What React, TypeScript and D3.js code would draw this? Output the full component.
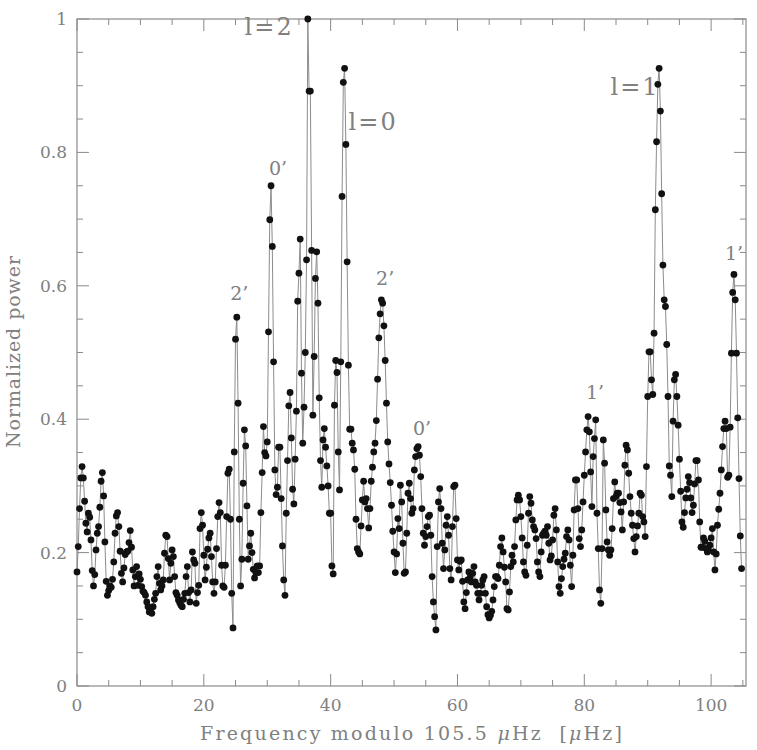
import React from "react";
import * as d3 from "d3";

// Frequency step between successive points (µHz)
const STEP = 0.2;

// Normalized power, in chunks of 10 µHz (each chunk starts at its named frequency)
const power000 = [
  0.171, 0.209, 0.266, 0.312, 0.329, 0.312, 0.277, 0.244, 0.231, 0.259,
  0.253, 0.219, 0.173, 0.150, 0.167, 0.204, 0.229, 0.239, 0.268, 0.307,
  0.320, 0.285, 0.216, 0.157, 0.136, 0.143, 0.150, 0.148, 0.160, 0.186,
  0.229, 0.255, 0.260, 0.239, 0.202, 0.169, 0.156, 0.177, 0.197, 0.201,
  0.202, 0.215, 0.233, 0.208, 0.174, 0.150, 0.164, 0.179, 0.151, 0.168,
];
const power010 = [
  0.160, 0.149, 0.142, 0.140, 0.136, 0.126, 0.119, 0.111, 0.112, 0.109,
  0.119, 0.130, 0.139, 0.164, 0.179, 0.154, 0.144, 0.150, 0.159, 0.199,
  0.226, 0.224, 0.191, 0.159, 0.184, 0.204, 0.194, 0.164, 0.140, 0.136,
  0.129, 0.125, 0.121, 0.119, 0.130, 0.139, 0.164, 0.179, 0.140, 0.126,
  0.144, 0.201, 0.189, 0.184, 0.124, 0.140, 0.151, 0.236, 0.260, 0.241,
];
const power020 = [
  0.196, 0.159, 0.178, 0.205, 0.222, 0.229, 0.194, 0.156, 0.139, 0.156,
  0.206, 0.254, 0.275, 0.260, 0.181, 0.150, 0.148, 0.181, 0.254, 0.319,
  0.325, 0.250, 0.139, 0.087, 0.351, 0.520, 0.553, 0.424, 0.250, 0.150,
  0.190, 0.304, 0.384, 0.360, 0.270, 0.190, 0.210, 0.229, 0.200, 0.175,
  0.162, 0.170, 0.180, 0.170, 0.180, 0.260, 0.320, 0.389, 0.350, 0.345,
];
const power030 = [
  0.366, 0.531, 0.699, 0.750, 0.659, 0.486, 0.324, 0.287, 0.298, 0.358,
  0.358, 0.281, 0.210, 0.159, 0.136, 0.259, 0.338, 0.420, 0.440, 0.372,
  0.295, 0.273, 0.340, 0.412, 0.577, 0.619, 0.670, 0.469, 0.364, 0.418,
  0.500, 0.639, 1.000, 0.892, 0.892, 0.653, 0.406, 0.494, 0.611, 0.651,
  0.574, 0.432, 0.338, 0.298, 0.369, 0.386, 0.358, 0.330, 0.300, 0.259,
];
const power040 = [
  0.259, 0.180, 0.168, 0.421, 0.488, 0.470, 0.351, 0.294, 0.486, 0.734,
  0.905, 0.926, 0.812, 0.636, 0.481, 0.385, 0.385, 0.364, 0.354, 0.325,
  0.250, 0.206, 0.201, 0.198, 0.240, 0.279, 0.307, 0.276, 0.281, 0.266,
  0.237, 0.266, 0.307, 0.328, 0.351, 0.364, 0.398, 0.460, 0.522, 0.558,
  0.579, 0.574, 0.540, 0.488, 0.424, 0.366, 0.333, 0.305, 0.271, 0.232,
];
const power050 = [
  0.201, 0.170, 0.198, 0.251, 0.236, 0.301, 0.276, 0.214, 0.169, 0.171,
  0.229, 0.289, 0.304, 0.281, 0.259, 0.266, 0.324, 0.344, 0.356, 0.359,
  0.346, 0.314, 0.266, 0.229, 0.211, 0.224, 0.239, 0.254, 0.256, 0.226,
  0.164, 0.126, 0.104, 0.084, 0.209, 0.276, 0.296, 0.266, 0.214, 0.176,
  0.204, 0.241, 0.254, 0.226, 0.176, 0.159, 0.239, 0.299, 0.301, 0.251,
];
const power060 = [
  0.189, 0.174, 0.187, 0.189, 0.157, 0.126, 0.116, 0.140, 0.159, 0.171,
  0.163, 0.156, 0.169, 0.179, 0.156, 0.151, 0.139, 0.129, 0.139, 0.151,
  0.159, 0.164, 0.139, 0.119, 0.107, 0.102, 0.106, 0.112, 0.129, 0.149,
  0.164, 0.164, 0.161, 0.181, 0.209, 0.222, 0.201, 0.178, 0.156, 0.116,
  0.114, 0.141, 0.179, 0.196, 0.186, 0.209, 0.249, 0.279, 0.286, 0.279,
];
const power070 = [
  0.254, 0.222, 0.186, 0.171, 0.166, 0.211, 0.259, 0.284, 0.274, 0.249,
  0.239, 0.234, 0.221, 0.186, 0.171, 0.164, 0.201, 0.226, 0.229, 0.232,
  0.226, 0.239, 0.214, 0.189, 0.195, 0.219, 0.256, 0.266, 0.234, 0.186,
  0.149, 0.139, 0.161, 0.179, 0.190, 0.199, 0.224, 0.234, 0.219, 0.181,
  0.149, 0.196, 0.264, 0.309, 0.309, 0.266, 0.221, 0.209, 0.234, 0.276,
];
const power080 = [
  0.316, 0.351, 0.384, 0.404, 0.381, 0.321, 0.269, 0.344, 0.371, 0.399,
  0.259, 0.206, 0.144, 0.124, 0.206, 0.369, 0.334, 0.264, 0.216, 0.204,
  0.196, 0.204, 0.236, 0.281, 0.306, 0.284, 0.289, 0.289, 0.275, 0.261,
  0.234, 0.276, 0.331, 0.361, 0.354, 0.319, 0.284, 0.259, 0.241, 0.221,
  0.201, 0.224, 0.240, 0.259, 0.289, 0.286, 0.254, 0.246, 0.224, 0.329,
];
const power090 = [
  0.434, 0.501, 0.501, 0.459, 0.437, 0.529, 0.714, 0.816, 0.902, 0.926,
  0.862, 0.738, 0.631, 0.579, 0.569, 0.512, 0.434, 0.330, 0.316, 0.284,
  0.397, 0.459, 0.467, 0.434, 0.391, 0.340, 0.292, 0.246, 0.238, 0.260,
  0.282, 0.295, 0.314, 0.305, 0.282, 0.260, 0.271, 0.303, 0.338, 0.338,
  0.309, 0.246, 0.208, 0.208, 0.222, 0.217, 0.206, 0.201, 0.203, 0.211,
];
const power100 = [
  0.222, 0.236, 0.201, 0.174, 0.198, 0.241, 0.265, 0.289, 0.324, 0.359,
  0.386, 0.397, 0.386, 0.313, 0.316, 0.388, 0.499, 0.590, 0.617, 0.579,
  0.499, 0.402, 0.311, 0.225, 0.176,
];

const chunks: { start: number; values: number[] }[] = [
  { start: 0, values: power000 },
  { start: 10, values: power010 },
  { start: 20, values: power020 },
  { start: 30, values: power030 },
  { start: 40, values: power040 },
  { start: 50, values: power050 },
  { start: 60, values: power060 },
  { start: 70, values: power070 },
  { start: 80, values: power080 },
  { start: 90, values: power090 },
  { start: 100, values: power100 },
];

// Mode labels, anchored at (frequency, power)
const labelTexts = ["l=2", "0\u2019", "l=0", "2\u2019", "2\u2019", "0\u2019", "l=1", "1\u2019", "1\u2019"];
const labelFreqs = [30.3, 31.7, 46.7, 25.6, 48.6, 54.4, 88.0, 81.7, 103.6];
const labelPowers = [0.976, 0.766, 0.834, 0.579, 0.601, 0.376, 0.886, 0.43, 0.639];

const xMajorTicks = [0, 20, 40, 60, 80, 100];
const yMajorTicks = [0, 0.2, 0.4, 0.6, 0.8, 1];
const xDomain = [0, 105.5];
const yDomain = [0, 1];

export default function App() {
  const W = 757, H = 750;
  const left = 77, right = 746, top = 19, bottom = 686;
  const x = d3.scaleLinear().domain(xDomain).range([left, right]);
  const y = d3.scaleLinear().domain(yDomain).range([bottom, top]);

  const data: [number, number][] = [];
  chunks.forEach((c) =>
    c.values.forEach((v, i) => data.push([c.start + i * STEP, v]))
  );

  const line = d3
    .line<[number, number]>()
    .x((d) => x(d[0]))
    .y((d) => y(d[1]));

  const frame = "#8a8a8a";
  const textCol = "#808080";
  const font = "'DejaVu Serif', 'Liberation Serif', serif";

  const xMinor = d3.range(0, 105.5 + 1e-9, 5);
  const yMinor = d3.range(0, 1 + 1e-9, 0.05);
  const isMajorX = (v: number) => Math.abs(v / 20 - Math.round(v / 20)) < 1e-6;
  const isMajorY = (v: number) => Math.abs(v / 0.2 - Math.round(v / 0.2)) < 1e-6;
  const majLen = 12, minLen = 6;

  return (
    <svg
      width={W}
      height={H}
      style={{ position: "absolute", left: 0, top: 0, background: "#fff" }}
      fontFamily={font}
    >
      <rect x={0} y={0} width={W} height={H} fill="#fff" />
      {/* frame */}
      <rect x={left} y={top} width={right - left} height={bottom - top} fill="none" stroke={frame} strokeWidth={1.2} />
      {/* x ticks */}
      {xMinor.map((v) => {
        const L = isMajorX(v) ? majLen : minLen;
        return (
          <g key={"xt" + v}>
            <line x1={x(v)} x2={x(v)} y1={bottom} y2={bottom - L} stroke={frame} strokeWidth={1} />
            <line x1={x(v)} x2={x(v)} y1={top} y2={top + L} stroke={frame} strokeWidth={1} />
          </g>
        );
      })}
      {/* y ticks */}
      {yMinor.map((v) => {
        const L = isMajorY(v) ? majLen : minLen;
        return (
          <g key={"yt" + v}>
            <line x1={left} x2={left + L} y1={y(v)} y2={y(v)} stroke={frame} strokeWidth={1} />
            <line x1={right} x2={right - L} y1={y(v)} y2={y(v)} stroke={frame} strokeWidth={1} />
          </g>
        );
      })}
      {/* tick labels */}
      {xMajorTicks.map((v) => (
        <text key={"xl" + v} x={x(v)} y={bottom + 25} textAnchor="middle" fontSize={17} fill={textCol} fontWeight={300}>
          {String(v)}
        </text>
      ))}
      {yMajorTicks.map((v) => (
        <text key={"yl" + v} x={left - 10} y={y(v) + 6} textAnchor="end" fontSize={17} fill={textCol} fontWeight={300}>
          {String(v)}
        </text>
      ))}
      {/* axis titles */}
      <text x={411} y={740} textAnchor="middle" fontSize={19} fill={textCol} textLength={422} lengthAdjust="spacing">
        Frequency modulo 105.5 <tspan fontStyle="italic">μ</tspan>Hz{"\u00a0\u00a0"}[<tspan fontStyle="italic">μ</tspan>Hz]
      </text>
      <text
        transform={`translate(20, ${352}) rotate(-90)`}
        textAnchor="middle"
        fontSize={19}
        fill={textCol}
        textLength={192}
        lengthAdjust="spacing"
      >
        Normalized power
      </text>
      {/* data line */}
      <path d={line(data) || ""} fill="none" stroke="#8c8c8c" strokeWidth={1} />
      {data.map((d, i) => (
        <circle key={i} cx={x(d[0])} cy={y(d[1])} r={3.4} fill="#111" />
      ))}
      {/* mode labels */}
      {labelTexts.map((t, i) => (
        <text
          key={"lab" + i}
          x={x(labelFreqs[i])}
          y={y(labelPowers[i])}
          textAnchor="middle"
          fontSize={t.startsWith("l") ? 24 : 19}
          letterSpacing={t.startsWith("l") ? 2 : 0}
          fill={textCol}
        >
          {t}
        </text>
      ))}
    </svg>
  );
}
